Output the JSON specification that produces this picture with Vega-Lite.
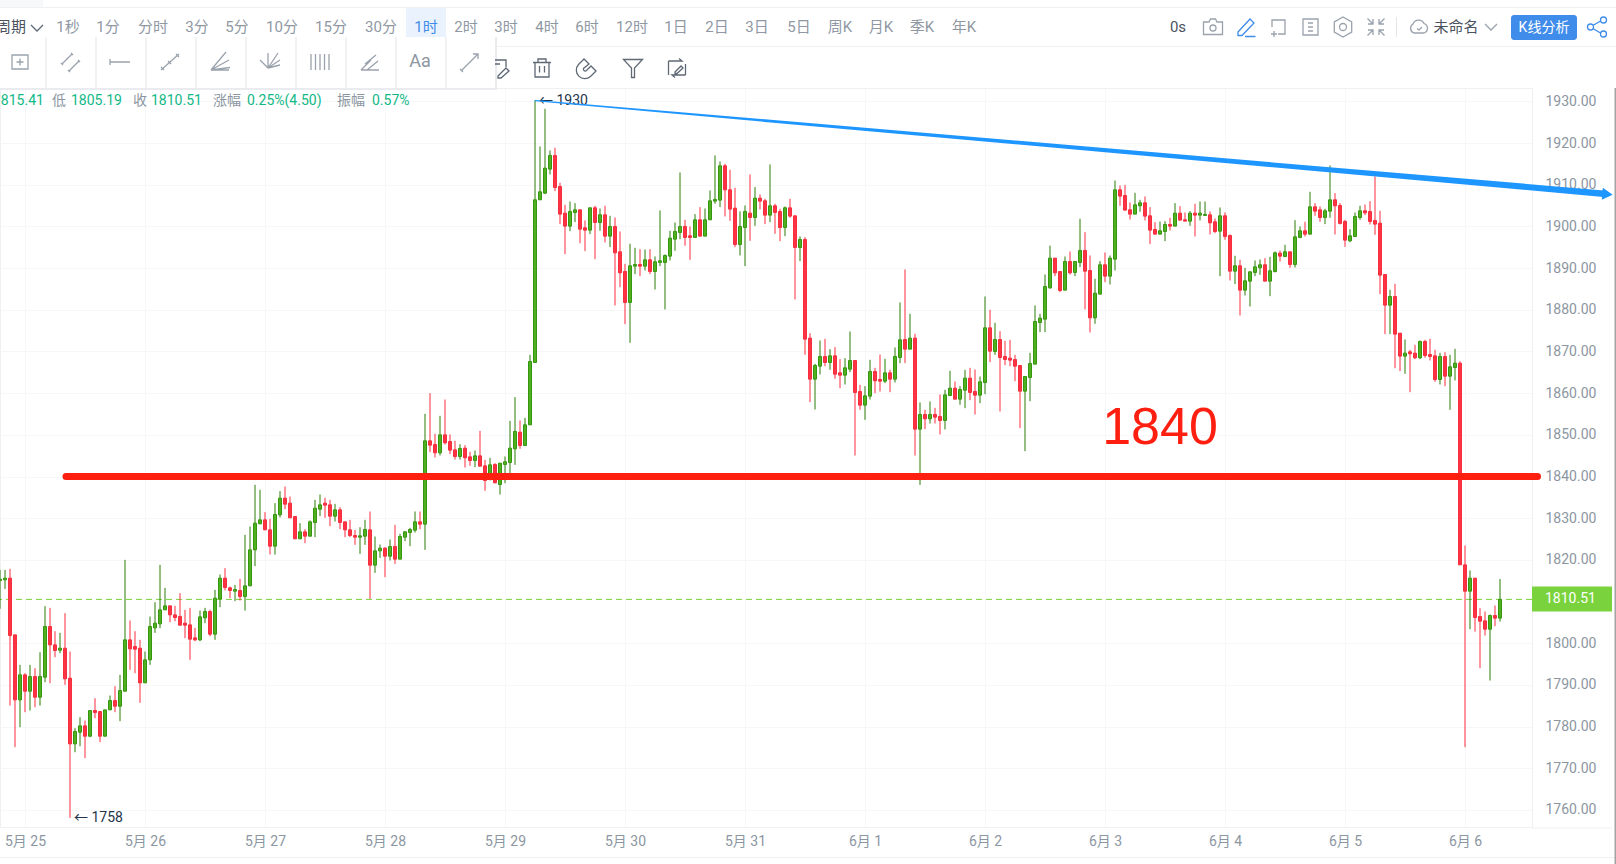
{
"$schema":"https://vega.github.io/schema/vega-lite/v6.json",
"description":"ETH 1h candlesticks, values read by eye from the picture; the application toolbar is reproduced as decoration, its positions held in piecewise scales.",
"width":1532,"height":739,"autosize":"none","padding":{"left":0,"top":88,"right":84,"bottom":37},"background":"#ffffff",
"config":{"font":"Roboto, 'Noto Sans CJK SC', sans-serif","view":{"stroke":"#eef0f2"}},
"datasets":{
"candles":[
{"t":"2023-05-24T19:00","o":1815.04,"h":1817.6,"l":1808.24,"c":1815.36},
{"t":"2023-05-24T20:00","o":1815.2,"h":1817.6,"l":1813.04,"c":1815.6},
{"t":"2023-05-24T21:00","o":1815.6,"h":1817.84,"l":1785.04,"c":1801.84},
{"t":"2023-05-24T22:00","o":1802,"h":1802,"l":1775.04,"c":1786.4},
{"t":"2023-05-24T23:00","o":1786.4,"h":1794.8,"l":1779.84,"c":1792.4},
{"t":"2023-05-25T00:00","o":1792.4,"h":1792.8,"l":1783.44,"c":1788.48},
{"t":"2023-05-25T01:00","o":1788.48,"h":1794.8,"l":1783.84,"c":1792},
{"t":"2023-05-25T02:00","o":1792,"h":1794,"l":1784.64,"c":1787.04},
{"t":"2023-05-25T03:00","o":1787.04,"h":1797.84,"l":1785.04,"c":1792},
{"t":"2023-05-25T04:00","o":1791.84,"h":1808.88,"l":1790.64,"c":1804},
{"t":"2023-05-25T05:00","o":1804,"h":1808.48,"l":1790.4,"c":1799.6},
{"t":"2023-05-25T06:00","o":1799.6,"h":1802.88,"l":1796.64,"c":1798.24},
{"t":"2023-05-25T07:00","o":1798.32,"h":1802.48,"l":1797.6,"c":1798.8},
{"t":"2023-05-25T08:00","o":1798.8,"h":1807.2,"l":1790,"c":1791.44},
{"t":"2023-05-25T09:00","o":1791.6,"h":1798,"l":1758.08,"c":1775.84},
{"t":"2023-05-25T10:00","o":1775.84,"h":1779.6,"l":1773.84,"c":1778.8},
{"t":"2023-05-25T11:00","o":1778.64,"h":1782.24,"l":1775.28,"c":1780.16},
{"t":"2023-05-25T12:00","o":1780.16,"h":1781.44,"l":1772.4,"c":1777.68},
{"t":"2023-05-25T13:00","o":1777.68,"h":1783.84,"l":1777.44,"c":1783.84},
{"t":"2023-05-25T14:00","o":1783.84,"h":1786.8,"l":1782,"c":1783.36},
{"t":"2023-05-25T15:00","o":1783.6,"h":1783.6,"l":1776.24,"c":1777.68},
{"t":"2023-05-25T16:00","o":1777.68,"h":1784,"l":1777.68,"c":1784},
{"t":"2023-05-25T17:00","o":1784,"h":1787.44,"l":1784,"c":1786.24},
{"t":"2023-05-25T18:00","o":1786.24,"h":1789.68,"l":1783.44,"c":1784.88},
{"t":"2023-05-25T19:00","o":1784.88,"h":1792.4,"l":1781.28,"c":1788.64},
{"t":"2023-05-25T20:00","o":1788.48,"h":1820,"l":1788.48,"c":1800.8},
{"t":"2023-05-25T21:00","o":1800.8,"h":1805.44,"l":1793.6,"c":1798.64},
{"t":"2023-05-25T22:00","o":1799.2,"h":1802.88,"l":1792.8,"c":1798.56},
{"t":"2023-05-25T23:00","o":1798.8,"h":1800.8,"l":1785.68,"c":1790.48},
{"t":"2023-05-26T00:00","o":1790.48,"h":1798,"l":1790.48,"c":1796},
{"t":"2023-05-26T01:00","o":1796,"h":1806.4,"l":1794.8,"c":1804},
{"t":"2023-05-26T02:00","o":1803.68,"h":1809.84,"l":1802.48,"c":1804.8},
{"t":"2023-05-26T03:00","o":1804.64,"h":1818.8,"l":1803.6,"c":1808},
{"t":"2023-05-26T04:00","o":1808,"h":1813.28,"l":1808,"c":1808.96},
{"t":"2023-05-26T05:00","o":1808.96,"h":1808.96,"l":1805.04,"c":1806.8},
{"t":"2023-05-26T06:00","o":1806.8,"h":1808.96,"l":1805.28,"c":1806.16},
{"t":"2023-05-26T07:00","o":1806.4,"h":1812,"l":1804.32,"c":1804.32},
{"t":"2023-05-26T08:00","o":1804.8,"h":1808,"l":1801.2,"c":1804.32},
{"t":"2023-05-26T09:00","o":1804.4,"h":1808.48,"l":1796,"c":1800.96},
{"t":"2023-05-26T10:00","o":1801.28,"h":1803.68,"l":1800.48,"c":1800.8},
{"t":"2023-05-26T11:00","o":1800.8,"h":1807.84,"l":1800.48,"c":1806.32},
{"t":"2023-05-26T12:00","o":1806.08,"h":1808.48,"l":1804.8,"c":1807.6},
{"t":"2023-05-26T13:00","o":1807.6,"h":1808,"l":1801.68,"c":1802.16},
{"t":"2023-05-26T14:00","o":1802.16,"h":1812.8,"l":1800.8,"c":1810.8},
{"t":"2023-05-26T15:00","o":1810.64,"h":1816.48,"l":1808.64,"c":1815.6},
{"t":"2023-05-26T16:00","o":1815.6,"h":1818,"l":1812.64,"c":1813.36},
{"t":"2023-05-26T17:00","o":1813.28,"h":1813.6,"l":1810.8,"c":1812.64},
{"t":"2023-05-26T18:00","o":1812.48,"h":1814,"l":1810.08,"c":1812.88},
{"t":"2023-05-26T19:00","o":1812.64,"h":1815.44,"l":1810.24,"c":1811.2},
{"t":"2023-05-26T20:00","o":1811.2,"h":1826,"l":1807.84,"c":1813.76},
{"t":"2023-05-26T21:00","o":1813.76,"h":1828,"l":1813.76,"c":1822.4},
{"t":"2023-05-26T22:00","o":1822.4,"h":1838,"l":1818.48,"c":1828.8},
{"t":"2023-05-26T23:00","o":1828.64,"h":1836.8,"l":1828.64,"c":1829.6},
{"t":"2023-05-27T00:00","o":1829.6,"h":1831.44,"l":1827.2,"c":1827.2},
{"t":"2023-05-27T01:00","o":1827.2,"h":1829.84,"l":1821.28,"c":1823.28},
{"t":"2023-05-27T02:00","o":1823.28,"h":1833.6,"l":1821.28,"c":1830.88},
{"t":"2023-05-27T03:00","o":1830.8,"h":1836.48,"l":1830.16,"c":1834.8},
{"t":"2023-05-27T04:00","o":1834.8,"h":1837.6,"l":1832.16,"c":1833.36},
{"t":"2023-05-27T05:00","o":1833.6,"h":1835.2,"l":1830.08,"c":1830.08},
{"t":"2023-05-27T06:00","o":1830.4,"h":1830.4,"l":1825.04,"c":1825.04},
{"t":"2023-05-27T07:00","o":1825.04,"h":1828.8,"l":1825.04,"c":1826.72},
{"t":"2023-05-27T08:00","o":1826.72,"h":1827.36,"l":1824,"c":1825.68},
{"t":"2023-05-27T09:00","o":1825.68,"h":1829.44,"l":1825.68,"c":1829.12},
{"t":"2023-05-27T10:00","o":1828.96,"h":1834.4,"l":1825.44,"c":1832.4},
{"t":"2023-05-27T11:00","o":1832.16,"h":1835.68,"l":1830.48,"c":1833.2},
{"t":"2023-05-27T12:00","o":1833.6,"h":1834.88,"l":1830.08,"c":1833.12},
{"t":"2023-05-27T13:00","o":1833.2,"h":1834.4,"l":1828.08,"c":1830.48},
{"t":"2023-05-27T14:00","o":1830.48,"h":1833.44,"l":1829.2,"c":1832},
{"t":"2023-05-27T15:00","o":1832,"h":1832.64,"l":1827.36,"c":1828.96},
{"t":"2023-05-27T16:00","o":1829.12,"h":1829.12,"l":1825.44,"c":1827.2},
{"t":"2023-05-27T17:00","o":1827.2,"h":1829.6,"l":1825.44,"c":1825.84},
{"t":"2023-05-27T18:00","o":1825.84,"h":1827.2,"l":1823.6,"c":1825.44},
{"t":"2023-05-27T19:00","o":1825.44,"h":1827.84,"l":1821.44,"c":1825.76},
{"t":"2023-05-27T20:00","o":1825.68,"h":1829.6,"l":1823.6,"c":1827.28},
{"t":"2023-05-27T21:00","o":1827.2,"h":1831.6,"l":1810.64,"c":1818.72},
{"t":"2023-05-27T22:00","o":1818.72,"h":1825.6,"l":1816.88,"c":1822.16},
{"t":"2023-05-27T23:00","o":1822.16,"h":1823.68,"l":1820.48,"c":1822.8},
{"t":"2023-05-28T00:00","o":1822.8,"h":1823.04,"l":1815.84,"c":1820.88},
{"t":"2023-05-28T01:00","o":1820.88,"h":1824.88,"l":1819.84,"c":1823.2},
{"t":"2023-05-28T02:00","o":1823.2,"h":1828.4,"l":1819.04,"c":1820.16},
{"t":"2023-05-28T03:00","o":1820.16,"h":1826.24,"l":1820.16,"c":1825.6},
{"t":"2023-05-28T04:00","o":1825.44,"h":1826.88,"l":1824.48,"c":1826.72},
{"t":"2023-05-28T05:00","o":1826.56,"h":1827.68,"l":1823.28,"c":1827.28},
{"t":"2023-05-28T06:00","o":1827.12,"h":1831.6,"l":1826.56,"c":1829.12},
{"t":"2023-05-28T07:00","o":1829.12,"h":1831.6,"l":1827.36,"c":1828.56},
{"t":"2023-05-28T08:00","o":1828.56,"h":1855.04,"l":1822.4,"c":1848.56},
{"t":"2023-05-28T09:00","o":1848.56,"h":1860,"l":1845.84,"c":1847.52},
{"t":"2023-05-28T10:00","o":1847.68,"h":1850.24,"l":1844.56,"c":1845.68},
{"t":"2023-05-28T11:00","o":1845.68,"h":1854.56,"l":1845.04,"c":1850},
{"t":"2023-05-28T12:00","o":1850,"h":1858.48,"l":1847.68,"c":1848.08},
{"t":"2023-05-28T13:00","o":1848.4,"h":1850.08,"l":1845.36,"c":1846.32},
{"t":"2023-05-28T14:00","o":1846.4,"h":1848.56,"l":1844.08,"c":1844.8},
{"t":"2023-05-28T15:00","o":1844.8,"h":1847.76,"l":1844.08,"c":1846.72},
{"t":"2023-05-28T16:00","o":1846.8,"h":1847.52,"l":1842.16,"c":1844.48},
{"t":"2023-05-28T17:00","o":1844.72,"h":1845.92,"l":1842.56,"c":1843.84},
{"t":"2023-05-28T18:00","o":1843.84,"h":1846.24,"l":1842.24,"c":1844.96},
{"t":"2023-05-28T19:00","o":1844.96,"h":1850.96,"l":1842.4,"c":1842.48},
{"t":"2023-05-28T20:00","o":1842.56,"h":1844,"l":1836.56,"c":1839.04},
{"t":"2023-05-28T21:00","o":1839.44,"h":1844.48,"l":1839.04,"c":1842.8},
{"t":"2023-05-28T22:00","o":1842.88,"h":1843.2,"l":1838.4,"c":1838.48},
{"t":"2023-05-28T23:00","o":1838.08,"h":1843.2,"l":1835.68,"c":1843.2},
{"t":"2023-05-29T00:00","o":1842.88,"h":1844.8,"l":1838.4,"c":1843.52},
{"t":"2023-05-29T01:00","o":1843.36,"h":1853.36,"l":1840.8,"c":1846.8},
{"t":"2023-05-29T02:00","o":1846.64,"h":1859.04,"l":1842.8,"c":1850.8},
{"t":"2023-05-29T03:00","o":1850.64,"h":1853.44,"l":1846.64,"c":1847.44},
{"t":"2023-05-29T04:00","o":1847.44,"h":1854.08,"l":1847.44,"c":1852.4},
{"t":"2023-05-29T05:00","o":1852.4,"h":1869.2,"l":1852.4,"c":1867.6},
{"t":"2023-05-29T06:00","o":1867.36,"h":1930.24,"l":1867.36,"c":1906.4},
{"t":"2023-05-29T07:00","o":1906.4,"h":1919.2,"l":1906.4,"c":1908.32},
{"t":"2023-05-29T08:00","o":1908,"h":1928.24,"l":1907.76,"c":1914},
{"t":"2023-05-29T09:00","o":1913.76,"h":1918.24,"l":1912.48,"c":1917.04},
{"t":"2023-05-29T10:00","o":1917.04,"h":1918.88,"l":1908.48,"c":1909.36},
{"t":"2023-05-29T11:00","o":1909.6,"h":1910.48,"l":1900.56,"c":1902.96},
{"t":"2023-05-29T12:00","o":1903.2,"h":1905.2,"l":1893.36,"c":1900.08},
{"t":"2023-05-29T13:00","o":1900.08,"h":1906,"l":1898.88,"c":1903.6},
{"t":"2023-05-29T14:00","o":1903.36,"h":1905.6,"l":1901.04,"c":1904},
{"t":"2023-05-29T15:00","o":1904,"h":1904,"l":1896,"c":1899.36},
{"t":"2023-05-29T16:00","o":1899.68,"h":1901.44,"l":1894.08,"c":1899.12},
{"t":"2023-05-29T17:00","o":1899.12,"h":1904.48,"l":1898.16,"c":1904.48},
{"t":"2023-05-29T18:00","o":1904.48,"h":1904.96,"l":1892.16,"c":1900.96},
{"t":"2023-05-29T19:00","o":1900.96,"h":1904.32,"l":1898.96,"c":1902.8},
{"t":"2023-05-29T20:00","o":1902.8,"h":1904.96,"l":1896.16,"c":1897.68},
{"t":"2023-05-29T21:00","o":1897.68,"h":1902.56,"l":1895.04,"c":1900},
{"t":"2023-05-29T22:00","o":1900,"h":1902.16,"l":1881.04,"c":1893.68},
{"t":"2023-05-29T23:00","o":1893.92,"h":1898.8,"l":1885.44,"c":1888.88},
{"t":"2023-05-30T00:00","o":1889.2,"h":1891.04,"l":1876.56,"c":1881.76},
{"t":"2023-05-30T01:00","o":1881.76,"h":1895.84,"l":1872.08,"c":1890.56},
{"t":"2023-05-30T02:00","o":1890.48,"h":1894.88,"l":1888.56,"c":1890.88},
{"t":"2023-05-30T03:00","o":1890.88,"h":1894.56,"l":1888.08,"c":1890.48},
{"t":"2023-05-30T04:00","o":1890.48,"h":1894.48,"l":1889.44,"c":1892},
{"t":"2023-05-30T05:00","o":1892,"h":1894.56,"l":1888.56,"c":1889.2},
{"t":"2023-05-30T06:00","o":1889.2,"h":1892.8,"l":1884.88,"c":1891.52},
{"t":"2023-05-30T07:00","o":1891.36,"h":1903.84,"l":1890.48,"c":1891.76},
{"t":"2023-05-30T08:00","o":1891.36,"h":1893.28,"l":1880.08,"c":1893.04},
{"t":"2023-05-30T09:00","o":1892.88,"h":1898.96,"l":1891.84,"c":1897.2},
{"t":"2023-05-30T10:00","o":1896.96,"h":1900.96,"l":1894.16,"c":1898.8},
{"t":"2023-05-30T11:00","o":1898.56,"h":1912.96,"l":1896.96,"c":1900},
{"t":"2023-05-30T12:00","o":1900,"h":1901.6,"l":1895.36,"c":1897.36},
{"t":"2023-05-30T13:00","o":1897.76,"h":1900,"l":1892,"c":1897.36},
{"t":"2023-05-30T14:00","o":1897.36,"h":1902.96,"l":1897.36,"c":1901.6},
{"t":"2023-05-30T15:00","o":1901.6,"h":1904.64,"l":1897.68,"c":1897.68},
{"t":"2023-05-30T16:00","o":1897.68,"h":1904.32,"l":1897.68,"c":1901.6},
{"t":"2023-05-30T17:00","o":1901.6,"h":1908.64,"l":1901.6,"c":1906.16},
{"t":"2023-05-30T18:00","o":1906.08,"h":1917.04,"l":1905.44,"c":1906.48},
{"t":"2023-05-30T19:00","o":1906.32,"h":1915.6,"l":1904.64,"c":1914.56},
{"t":"2023-05-30T20:00","o":1914.56,"h":1915.04,"l":1902.4,"c":1908.8},
{"t":"2023-05-30T21:00","o":1908.8,"h":1913.6,"l":1901.36,"c":1904.16},
{"t":"2023-05-30T22:00","o":1904.4,"h":1909.28,"l":1895.04,"c":1895.68},
{"t":"2023-05-30T23:00","o":1895.68,"h":1903.6,"l":1893.04,"c":1900},
{"t":"2023-05-31T00:00","o":1899.76,"h":1905.04,"l":1890.48,"c":1903.6},
{"t":"2023-05-31T01:00","o":1903.2,"h":1912.48,"l":1896.56,"c":1902.16},
{"t":"2023-05-31T02:00","o":1902.16,"h":1909.44,"l":1900.16,"c":1906.8},
{"t":"2023-05-31T03:00","o":1906.8,"h":1907.68,"l":1904.08,"c":1906.08},
{"t":"2023-05-31T04:00","o":1906.16,"h":1906.64,"l":1900.56,"c":1902.72},
{"t":"2023-05-31T05:00","o":1902.72,"h":1914.88,"l":1901.04,"c":1904.96},
{"t":"2023-05-31T06:00","o":1904.96,"h":1905.44,"l":1898.24,"c":1903.36},
{"t":"2023-05-31T07:00","o":1903.6,"h":1904.24,"l":1896.48,"c":1899.76},
{"t":"2023-05-31T08:00","o":1899.76,"h":1904.8,"l":1897.68,"c":1904.48},
{"t":"2023-05-31T09:00","o":1904.48,"h":1906.64,"l":1902.08,"c":1902.48},
{"t":"2023-05-31T10:00","o":1902.56,"h":1902.56,"l":1882.48,"c":1894.96},
{"t":"2023-05-31T11:00","o":1894.96,"h":1897.6,"l":1891.68,"c":1896.88},
{"t":"2023-05-31T12:00","o":1896.88,"h":1897.44,"l":1869.2,"c":1872.96},
{"t":"2023-05-31T13:00","o":1873.2,"h":1874.4,"l":1857.84,"c":1863.36},
{"t":"2023-05-31T14:00","o":1863.36,"h":1867.04,"l":1856.08,"c":1866.64},
{"t":"2023-05-31T15:00","o":1866.48,"h":1872.64,"l":1864.48,"c":1868.8},
{"t":"2023-05-31T16:00","o":1868.8,"h":1873.04,"l":1866.48,"c":1867.36},
{"t":"2023-05-31T17:00","o":1867.36,"h":1870.56,"l":1865.6,"c":1868.96},
{"t":"2023-05-31T18:00","o":1868.96,"h":1871.04,"l":1863.44,"c":1864.56},
{"t":"2023-05-31T19:00","o":1864.88,"h":1868.16,"l":1861.2,"c":1864.32},
{"t":"2023-05-31T20:00","o":1864.32,"h":1868.4,"l":1862.08,"c":1866.08},
{"t":"2023-05-31T21:00","o":1865.76,"h":1874.8,"l":1865.04,"c":1867.84},
{"t":"2023-05-31T22:00","o":1867.84,"h":1867.84,"l":1845.04,"c":1860.16},
{"t":"2023-05-31T23:00","o":1860.4,"h":1862,"l":1856,"c":1857.12},
{"t":"2023-06-01T00:00","o":1857.12,"h":1861.68,"l":1853.6,"c":1859.36},
{"t":"2023-06-01T01:00","o":1859.28,"h":1868,"l":1858.48,"c":1865.2},
{"t":"2023-06-01T02:00","o":1865.2,"h":1866.08,"l":1860,"c":1862.96},
{"t":"2023-06-01T03:00","o":1863.28,"h":1869.28,"l":1860.4,"c":1862.88},
{"t":"2023-06-01T04:00","o":1862.88,"h":1868.24,"l":1862.4,"c":1864.88},
{"t":"2023-06-01T05:00","o":1864.88,"h":1865.6,"l":1860.24,"c":1863.36},
{"t":"2023-06-01T06:00","o":1863.36,"h":1870.96,"l":1862.56,"c":1868.8},
{"t":"2023-06-01T07:00","o":1868.56,"h":1881.76,"l":1867.2,"c":1872.8},
{"t":"2023-06-01T08:00","o":1872.88,"h":1889.68,"l":1867.2,"c":1870.56},
{"t":"2023-06-01T09:00","o":1870.56,"h":1879.04,"l":1870.56,"c":1873.2},
{"t":"2023-06-01T10:00","o":1873.2,"h":1874.24,"l":1845.04,"c":1851.36},
{"t":"2023-06-01T11:00","o":1851.36,"h":1857.76,"l":1837.99,"c":1854.88},
{"t":"2023-06-01T12:00","o":1854.88,"h":1856,"l":1851.36,"c":1853.84},
{"t":"2023-06-01T13:00","o":1853.84,"h":1858,"l":1852.72,"c":1854.88},
{"t":"2023-06-01T14:00","o":1854.88,"h":1856.48,"l":1852.72,"c":1854.24},
{"t":"2023-06-01T15:00","o":1854.4,"h":1859.68,"l":1850.08,"c":1853.44},
{"t":"2023-06-01T16:00","o":1853.44,"h":1860.8,"l":1851.28,"c":1859.6},
{"t":"2023-06-01T17:00","o":1859.44,"h":1865.36,"l":1859.28,"c":1861.2},
{"t":"2023-06-01T18:00","o":1861.2,"h":1862.8,"l":1858.56,"c":1858.56},
{"t":"2023-06-01T19:00","o":1858.56,"h":1861.68,"l":1857.2,"c":1860.88},
{"t":"2023-06-01T20:00","o":1860.72,"h":1865.6,"l":1856.4,"c":1863.6},
{"t":"2023-06-01T21:00","o":1863.6,"h":1866.08,"l":1858.32,"c":1860.16},
{"t":"2023-06-01T22:00","o":1860.4,"h":1865.68,"l":1854.88,"c":1859.52},
{"t":"2023-06-01T23:00","o":1859.52,"h":1864,"l":1857.6,"c":1862.72},
{"t":"2023-06-02T00:00","o":1862.56,"h":1883.2,"l":1859.76,"c":1875.68},
{"t":"2023-06-02T01:00","o":1875.68,"h":1880,"l":1867.44,"c":1870.08},
{"t":"2023-06-02T02:00","o":1870,"h":1876.88,"l":1869.2,"c":1872.88},
{"t":"2023-06-02T03:00","o":1872.88,"h":1874.88,"l":1855.6,"c":1868.56},
{"t":"2023-06-02T04:00","o":1868.8,"h":1872.56,"l":1866.72,"c":1868.08},
{"t":"2023-06-02T05:00","o":1868.4,"h":1872.8,"l":1866.48,"c":1867.92},
{"t":"2023-06-02T06:00","o":1868.08,"h":1869.2,"l":1862.88,"c":1866.48},
{"t":"2023-06-02T07:00","o":1866.64,"h":1866.64,"l":1851.6,"c":1860.48},
{"t":"2023-06-02T08:00","o":1860.48,"h":1864,"l":1846.08,"c":1864},
{"t":"2023-06-02T09:00","o":1863.76,"h":1869.68,"l":1858.08,"c":1867.12},
{"t":"2023-06-02T10:00","o":1866.96,"h":1881.04,"l":1866.96,"c":1877.2},
{"t":"2023-06-02T11:00","o":1876.96,"h":1879.04,"l":1874.64,"c":1878},
{"t":"2023-06-02T12:00","o":1877.76,"h":1888.48,"l":1874.64,"c":1885.6},
{"t":"2023-06-02T13:00","o":1885.28,"h":1895.4,"l":1885.04,"c":1892.4},
{"t":"2023-06-02T14:00","o":1892.4,"h":1892.4,"l":1888.08,"c":1888.88},
{"t":"2023-06-02T15:00","o":1889.2,"h":1889.2,"l":1884.24,"c":1884.64},
{"t":"2023-06-02T16:00","o":1884.72,"h":1892.8,"l":1884.72,"c":1891.6},
{"t":"2023-06-02T17:00","o":1891.6,"h":1894,"l":1888.48,"c":1888.88},
{"t":"2023-06-02T18:00","o":1888.96,"h":1891.6,"l":1888.08,"c":1891.6},
{"t":"2023-06-02T19:00","o":1891.36,"h":1901.84,"l":1890.24,"c":1894.24},
{"t":"2023-06-02T20:00","o":1894.24,"h":1898.64,"l":1880.08,"c":1889.28},
{"t":"2023-06-02T21:00","o":1889.44,"h":1893.04,"l":1874.56,"c":1878.08},
{"t":"2023-06-02T22:00","o":1878.08,"h":1887.44,"l":1876.64,"c":1884},
{"t":"2023-06-02T23:00","o":1883.76,"h":1891.68,"l":1883.76,"c":1890.8},
{"t":"2023-06-03T00:00","o":1890.8,"h":1893.76,"l":1886.64,"c":1888.08},
{"t":"2023-06-03T01:00","o":1888.08,"h":1893.04,"l":1886.08,"c":1892.4},
{"t":"2023-06-03T02:00","o":1892.16,"h":1911.04,"l":1889.44,"c":1908.8},
{"t":"2023-06-03T03:00","o":1908.8,"h":1909.84,"l":1904.96,"c":1907.28},
{"t":"2023-06-03T04:00","o":1907.44,"h":1910,"l":1903.92,"c":1903.92},
{"t":"2023-06-03T05:00","o":1904,"h":1905.76,"l":1901.68,"c":1902.96},
{"t":"2023-06-03T06:00","o":1902.96,"h":1908.08,"l":1902.96,"c":1905.2},
{"t":"2023-06-03T07:00","o":1904.96,"h":1906.4,"l":1903.52,"c":1905.68},
{"t":"2023-06-03T08:00","o":1905.68,"h":1907.2,"l":1901.44,"c":1902.48},
{"t":"2023-06-03T09:00","o":1902.56,"h":1904.64,"l":1895.76,"c":1899.12},
{"t":"2023-06-03T10:00","o":1899.28,"h":1901.04,"l":1898.16,"c":1898.16},
{"t":"2023-06-03T11:00","o":1898.16,"h":1901.2,"l":1898.16,"c":1898.96},
{"t":"2023-06-03T12:00","o":1898.8,"h":1901.28,"l":1896.48,"c":1900.48},
{"t":"2023-06-03T13:00","o":1900.48,"h":1902.08,"l":1899.04,"c":1900.08},
{"t":"2023-06-03T14:00","o":1900.08,"h":1905.6,"l":1900.08,"c":1903.2},
{"t":"2023-06-03T15:00","o":1903.2,"h":1904.88,"l":1901.52,"c":1901.52},
{"t":"2023-06-03T16:00","o":1901.6,"h":1903.36,"l":1901.28,"c":1901.28},
{"t":"2023-06-03T17:00","o":1901.28,"h":1903.68,"l":1900.16,"c":1903.2},
{"t":"2023-06-03T18:00","o":1903.2,"h":1905.44,"l":1897.6,"c":1902.72},
{"t":"2023-06-03T19:00","o":1902.72,"h":1906,"l":1901.44,"c":1903.2},
{"t":"2023-06-03T20:00","o":1902.64,"h":1906,"l":1902.64,"c":1902.88},
{"t":"2023-06-03T21:00","o":1902.8,"h":1903.6,"l":1898.08,"c":1900.88},
{"t":"2023-06-03T22:00","o":1901.12,"h":1901.92,"l":1898.4,"c":1898.8},
{"t":"2023-06-03T23:00","o":1898.88,"h":1904.56,"l":1888.08,"c":1902.56},
{"t":"2023-06-04T00:00","o":1902.56,"h":1903.36,"l":1896.8,"c":1897.6},
{"t":"2023-06-04T01:00","o":1897.84,"h":1898.08,"l":1887.04,"c":1889.28},
{"t":"2023-06-04T02:00","o":1889.28,"h":1892.96,"l":1886.16,"c":1890.56},
{"t":"2023-06-04T03:00","o":1890.56,"h":1892,"l":1878.64,"c":1884.72},
{"t":"2023-06-04T04:00","o":1884.72,"h":1890.08,"l":1883.44,"c":1886.96},
{"t":"2023-06-04T05:00","o":1886.88,"h":1889.2,"l":1880.8,"c":1889.12},
{"t":"2023-06-04T06:00","o":1888.96,"h":1891.84,"l":1888.08,"c":1890.32},
{"t":"2023-06-04T07:00","o":1890.08,"h":1892.08,"l":1888.4,"c":1890.8},
{"t":"2023-06-04T08:00","o":1890.8,"h":1892.4,"l":1886.88,"c":1886.88},
{"t":"2023-06-04T09:00","o":1886.88,"h":1892.72,"l":1883.28,"c":1889.36},
{"t":"2023-06-04T10:00","o":1889.2,"h":1894,"l":1888.96,"c":1893.68},
{"t":"2023-06-04T11:00","o":1893.6,"h":1894.24,"l":1891.6,"c":1892.88},
{"t":"2023-06-04T12:00","o":1892.8,"h":1895.6,"l":1892.64,"c":1893.92},
{"t":"2023-06-04T13:00","o":1893.92,"h":1893.92,"l":1890.08,"c":1890.88},
{"t":"2023-06-04T14:00","o":1890.88,"h":1901.52,"l":1890.16,"c":1897.52},
{"t":"2023-06-04T15:00","o":1897.36,"h":1900,"l":1897.2,"c":1898.96},
{"t":"2023-06-04T16:00","o":1898.96,"h":1901.12,"l":1897.6,"c":1898.16},
{"t":"2023-06-04T17:00","o":1898.16,"h":1908.32,"l":1898.16,"c":1904.72},
{"t":"2023-06-04T18:00","o":1904.72,"h":1905.6,"l":1902.56,"c":1903.68},
{"t":"2023-06-04T19:00","o":1904,"h":1904.8,"l":1901.12,"c":1902.16},
{"t":"2023-06-04T20:00","o":1902.16,"h":1904.24,"l":1900.56,"c":1903.76},
{"t":"2023-06-04T21:00","o":1903.68,"h":1914.64,"l":1902.08,"c":1906.4},
{"t":"2023-06-04T22:00","o":1906.4,"h":1908,"l":1898.08,"c":1904.96},
{"t":"2023-06-04T23:00","o":1905.04,"h":1905.6,"l":1900.48,"c":1900.72},
{"t":"2023-06-05T00:00","o":1901.2,"h":1901.6,"l":1895.12,"c":1896.72},
{"t":"2023-06-05T01:00","o":1896.56,"h":1899.36,"l":1896.24,"c":1897.76},
{"t":"2023-06-05T02:00","o":1897.6,"h":1903.36,"l":1897.6,"c":1902.4},
{"t":"2023-06-05T03:00","o":1902.16,"h":1904.96,"l":1901.6,"c":1903.76},
{"t":"2023-06-05T04:00","o":1903.76,"h":1905.28,"l":1902.72,"c":1903.28},
{"t":"2023-06-05T05:00","o":1903.6,"h":1906.08,"l":1900.48,"c":1901.2},
{"t":"2023-06-05T06:00","o":1901.44,"h":1912,"l":1898,"c":1900.56},
{"t":"2023-06-05T07:00","o":1900.8,"h":1903.76,"l":1883.76,"c":1888.32},
{"t":"2023-06-05T08:00","o":1888.48,"h":1888.48,"l":1874.16,"c":1881.12},
{"t":"2023-06-05T09:00","o":1881.12,"h":1884.8,"l":1874.16,"c":1883.2},
{"t":"2023-06-05T10:00","o":1883.2,"h":1886.24,"l":1866,"c":1874.16},
{"t":"2023-06-05T11:00","o":1874.4,"h":1874.4,"l":1865.28,"c":1868.88},
{"t":"2023-06-05T12:00","o":1868.88,"h":1872.88,"l":1864.64,"c":1869.6},
{"t":"2023-06-05T13:00","o":1869.92,"h":1870.4,"l":1860.24,"c":1869.44},
{"t":"2023-06-05T14:00","o":1869.6,"h":1871.6,"l":1868.16,"c":1868.48},
{"t":"2023-06-05T15:00","o":1868.48,"h":1872.64,"l":1868.16,"c":1872.4},
{"t":"2023-06-05T16:00","o":1872.4,"h":1872.8,"l":1868.48,"c":1869.04},
{"t":"2023-06-05T17:00","o":1869.28,"h":1873.04,"l":1867.84,"c":1868.8},
{"t":"2023-06-05T18:00","o":1868.96,"h":1870.4,"l":1862.72,"c":1863.28},
{"t":"2023-06-05T19:00","o":1863.28,"h":1869.68,"l":1862.08,"c":1868.8},
{"t":"2023-06-05T20:00","o":1868.8,"h":1869.84,"l":1861.68,"c":1864.08},
{"t":"2023-06-05T21:00","o":1864.08,"h":1869.2,"l":1856,"c":1866.32},
{"t":"2023-06-05T22:00","o":1866.16,"h":1870.64,"l":1863.04,"c":1867.2},
{"t":"2023-06-05T23:00","o":1867.2,"h":1867.68,"l":1818.8,"c":1818.8},
{"t":"2023-06-06T00:00","o":1818.8,"h":1823.44,"l":1775.04,"c":1812.48},
{"t":"2023-06-06T01:00","o":1812.48,"h":1817.44,"l":1803.36,"c":1815.6},
{"t":"2023-06-06T02:00","o":1815.6,"h":1815.6,"l":1802.8,"c":1806.16},
{"t":"2023-06-06T03:00","o":1806.4,"h":1808.4,"l":1794,"c":1805.28},
{"t":"2023-06-06T04:00","o":1805.36,"h":1807.6,"l":1801.84,"c":1803.36},
{"t":"2023-06-06T05:00","o":1803.36,"h":1806.88,"l":1791.04,"c":1806.64},
{"t":"2023-06-06T06:00","o":1806.64,"h":1809.04,"l":1804.08,"c":1806.01},
{"t":"2023-06-06T07:00","o":1806.01,"h":1815.41,"l":1805.19,"c":1810.51}
],
"support":[{"t":"2023-05-25T08:12","p":1840},{"t":"2023-06-06T14:30","p":1840}],
"supportLabel":[{"t":"2023-06-03T11:00","p":1851.7,"label":"1840"}],
"trend":[{"t":"2023-05-29T06:06","p":1930.2},{"t":"2023-06-07T03:42","p":1907.87}],
"trendHead":[{"t":"2023-06-07T04:30","p":1907.75}],
"extremes":[{"t":"2023-05-25T09:00","p":1758,"label":"← 1758"},{"t":"2023-05-29T06:00","p":1930.2,"label":"← 1930"}],
"last":[{"p":1810.51,"label":"1810.51","t":"2023-06-06T13:24","t2":"2023-06-07T05:24","p1":1813.6,"p2":1807.6}],
"chromeBoxes":[
{"seq":0,"seq2":1,"kind":"faint"},{"seq":2,"seq2":3,"kind":"line"},{"seq":4,"seq2":5,"kind":"line"},{"seq":6,"seq2":7,"kind":"active"},
{"seq":8,"seq2":9,"kind":"line"},{"seq":10,"seq2":11,"kind":"edge"},{"seq":12,"seq2":13,"kind":"line"},{"seq":14,"seq2":15,"kind":"div"},
{"seq":38,"seq2":39,"kind":"shadow"},{"seq":18,"seq2":19,"kind":"panel"},
{"seq":20,"seq2":21,"kind":"div"},{"seq":22,"seq2":23,"kind":"div"},{"seq":24,"seq2":25,"kind":"div"},{"seq":26,"seq2":27,"kind":"div"},{"seq":28,"seq2":29,"kind":"div"},{"seq":30,"seq2":31,"kind":"div"},{"seq":32,"seq2":33,"kind":"div"},{"seq":34,"seq2":35,"kind":"div"},{"seq":36,"seq2":37,"kind":"div"}
],
"chromeButton":[{"seq":16,"seq2":17}],
"chromeCentered":[
{"seq":40,"label":"周期","kind":"dark"},{"seq":41,"label":"1秒","kind":"tf"},{"seq":42,"label":"1分","kind":"tf"},{"seq":43,"label":"分时","kind":"tf"},{"seq":44,"label":"3分","kind":"tf"},{"seq":45,"label":"5分","kind":"tf"},{"seq":46,"label":"10分","kind":"tf"},{"seq":47,"label":"15分","kind":"tf"},{"seq":48,"label":"30分","kind":"tf"},{"seq":49,"label":"1时","kind":"tfActive"},{"seq":50,"label":"2时","kind":"tf"},{"seq":51,"label":"3时","kind":"tf"},{"seq":52,"label":"4时","kind":"tf"},{"seq":53,"label":"6时","kind":"tf"},{"seq":54,"label":"12时","kind":"tf"},{"seq":55,"label":"1日","kind":"tf"},{"seq":56,"label":"2日","kind":"tf"},{"seq":57,"label":"3日","kind":"tf"},{"seq":58,"label":"5日","kind":"tf"},{"seq":59,"label":"周K","kind":"tf"},{"seq":60,"label":"月K","kind":"tf"},{"seq":61,"label":"季K","kind":"tf"},{"seq":62,"label":"年K","kind":"tf"},{"seq":63,"label":"0s","kind":"dark"},{"seq":64,"label":"未命名","kind":"dark"}
],
"chromeButtonText":[{"seq":65,"label":"K线分析"}],
"chromeAa":[{"seq":66,"label":"Aa"}],
"chromeInfo":[
{"seq":67,"label":"1815.41","kind":"infoValue"},{"seq":68,"label":"低","kind":"infoLabel"},{"seq":69,"label":"1805.19","kind":"infoValue"},{"seq":70,"label":"收","kind":"infoLabel"},{"seq":71,"label":"1810.51","kind":"infoValue"},{"seq":72,"label":"涨幅","kind":"infoLabel"},{"seq":73,"label":"0.25%(4.50)","kind":"infoValue"},{"seq":74,"label":"振幅","kind":"infoLabel"},{"seq":75,"label":"0.57%","kind":"infoValue"}
],
"chromeIcons":[
{"seq":76,"icon":"box","tone":"gray"},{"seq":77,"icon":"parallel","tone":"gray"},{"seq":78,"icon":"hline","tone":"gray"},{"seq":79,"icon":"segment","tone":"gray"},{"seq":80,"icon":"fan","tone":"gray"},{"seq":81,"icon":"gann","tone":"gray"},{"seq":82,"icon":"bars","tone":"gray"},{"seq":83,"icon":"fib","tone":"gray"},{"seq":84,"icon":"arrow","tone":"gray"},
{"seq":85,"icon":"edit","tone":"slate"},{"seq":86,"icon":"trash","tone":"slate"},{"seq":87,"icon":"magnet","tone":"slate"},{"seq":88,"icon":"filter","tone":"slate"},{"seq":89,"icon":"loop","tone":"slate"},
{"seq":90,"icon":"camera","tone":"gray"},{"seq":91,"icon":"pen","tone":"blue"},{"seq":92,"icon":"addwin","tone":"gray"},{"seq":93,"icon":"danmu","tone":"gray"},{"seq":94,"icon":"hex","tone":"gray"},{"seq":95,"icon":"compress","tone":"gray"},{"seq":96,"icon":"cloud","tone":"gray"},{"seq":97,"icon":"chevron","tone":"gray"},{"seq":98,"icon":"share","tone":"blue"},{"seq":99,"icon":"chevron","tone":"slate"}
]
},
"resolve":{"scale":{"x":"independent","y":"independent"}},
"layer":[
{"layer":[
{"data":{"name":"last"},"mark":{"type":"rule","color":"#7ad33c","strokeDash":[6,4],"strokeWidth":1},
 "encoding":{"y":{"field":"p","type":"quantitative","title":null,"scale":{"domain":[1755.89,1933.23],"nice":false,"zero":false,"padding":0},"axis":{"orient":"right","values":[1760,1770,1780,1790,1800,1820,1830,1840,1850,1860,1870,1880,1890,1900,1910,1920,1930],"format":".2f","grid":true,"gridColor":"#f5f7f9","ticks":false,"domain":false,"labelColor":"#8c96a1","labelFontSize":14,"labelPadding":13,"title":null}}}},
{"data":{"name":"candles"},"mark":{"type":"rule","strokeWidth":1},
 "encoding":{"x":{"field":"t","type":"temporal","title":null,"scale":{"domain":[{"year":2023,"month":5,"date":24,"hours":19,"minutes":0},{"year":2023,"month":6,"date":6,"hours":13,"minutes":24}],"nice":false,"padding":0},"axis":{"orient":"bottom","tickCount":"day","format":"%-m月 %-d","grid":true,"gridColor":"#f5f7f9","ticks":false,"domain":false,"labelColor":"#8c96a1","labelFontSize":14,"labelPadding":7,"labelFlush":false,"labelOverlap":false,"labelBound":false,"title":null}},
 "y":{"field":"l","type":"quantitative","title":null},"y2":{"field":"h"},
 "stroke":{"condition":{"test":"datum.c>=datum.o","value":"#2a7d05"},"value":"#ff2d3e"}}},
{"data":{"name":"candles"},"mark":{"type":"bar","size":3,"strokeWidth":1},
 "encoding":{"x":{"field":"t","type":"temporal"},"y":{"field":"o","type":"quantitative"},"y2":{"field":"c"},
 "fill":{"condition":{"test":"datum.c>=datum.o","value":"#4fb020"},"value":"#ff3344"},
 "stroke":{"condition":{"test":"datum.c>=datum.o","value":"#37960f"},"value":"#f4303f"}}},
{"data":{"name":"support"},"mark":{"type":"line","color":"#ff1f10","strokeWidth":7,"strokeCap":"round","clip":false},
 "encoding":{"x":{"field":"t","type":"temporal"},"y":{"field":"p","type":"quantitative"}}},
{"data":{"name":"supportLabel"},"mark":{"type":"text","color":"#ff1f10","font":"Liberation Sans","fontSize":52,"align":"center","baseline":"middle"},
 "encoding":{"x":{"field":"t","type":"temporal"},"y":{"field":"p","type":"quantitative"},"text":{"field":"label"}}},
{"data":{"name":"extremes"},"mark":{"type":"text","color":"#24344a","fontSize":14,"align":"left","baseline":"middle","dx":4},
 "encoding":{"x":{"field":"t","type":"temporal"},"y":{"field":"p","type":"quantitative"},"text":{"field":"label"}}},
{"data":{"name":"trend"},"mark":{"type":"trail","color":"#1e96ff","clip":false},
 "encoding":{"x":{"field":"t","type":"temporal"},"y":{"field":"p","type":"quantitative"},
 "size":{"field":"p","type":"quantitative","legend":null,"scale":{"domain":[1930.2,1907.87],"range":[1.5,6.5]}}}},
{"data":{"name":"trendHead"},"mark":{"type":"point","shape":"triangle-right","filled":true,"color":"#1e96ff","size":144,"angle":5,"opacity":1},
 "encoding":{"x":{"field":"t","type":"temporal"},"y":{"field":"p","type":"quantitative"}}},
{"data":{"name":"last"},"mark":{"type":"rect","color":"#7ad33c"},
 "encoding":{"x":{"field":"t","type":"temporal"},"x2":{"field":"t2"},"y":{"field":"p1","type":"quantitative"},"y2":{"field":"p2"}}},
{"data":{"name":"last"},"mark":{"type":"text","color":"#ffffff","fontSize":14,"align":"left","baseline":"middle","dx":13},
 "encoding":{"x":{"field":"t","type":"temporal"},"y":{"field":"p","type":"quantitative"},"text":{"field":"label"}}}
]},
{"encoding":{
 "x":{"field":"seq","type":"quantitative","axis":null,"scale":{"nice":false,"zero":false,"padding":0,
  "domain":[0,1,2,3,4,5,6,7,8,9,10,11,12,13,14,15,16,17,18,19,20,21,22,23,24,25,26,27,28,29,30,31,32,33,34,35,36,37,38,39,40,41,42,43,44,45,46,47,48,49,50,51,52,53,54,55,56,57,58,59,60,61,62,63,64,65,66,67,68,69,70,71,72,73,74,75,76,77,78,79,80,81,82,83,84,85,86,87,88,89,90,91,92,93,94,95,96,97,98,99],
  "range":[0,43,0,1616,0,1616,406,446,0,1616,1614.5,1616,1532,1612,1396,1397,1511,1577,0,495,45.5,46.5,95.5,96.5,145.5,146.5,195.5,196.5,245.5,246.5,295.5,296.5,345.5,346.5,395.5,396.5,445.5,446.5,0,497,11,68,108,153,197,237,282,331,381,426,466,506,547,587,632,676,717,757,799,840,881,922,964,1178,1456,1544,420,-7,52,71,133,151,213,247,337,372,20,71,120,170,220,270,320,370,470,499,542,587,633,677,1213,1246,1278,1311,1343,1376,1419,1491,1597,37]}},
 "y":{"field":"seq","type":"quantitative","axis":null,"scale":{"nice":false,"zero":false,"padding":0,
  "domain":[0,1,2,3,4,5,6,7,8,9,10,11,12,13,14,15,16,17,18,19,20,21,22,23,24,25,26,27,28,29,30,31,32,33,34,35,36,37,38,39,40,41,42,43,44,45,46,47,48,49,50,51,52,53,54,55,56,57,58,59,60,61,62,63,64,65,66,67,68,69,70,71,72,73,74,75,76,77,78,79,80,81,82,83,84,85,86,87,88,89,90,91,92,93,94,95,96,97,98,99],
  "range":[-88,-81,-81,-80,-42,-41,-80,-51,769,770,0,776,739.5,740.5,-71,-51,-73,-48,-51,0,-51,0,-51,0,-51,0,-51,0,-51,0,-51,0,-51,0,-51,0,-51,0,-51,2,-61,-61,-61,-61,-61,-61,-61,-61,-61,-61,-61,-61,-61,-61,-61,-61,-61,-61,-61,-61,-61,-61,-61,-61,-61,-60.5,-26,13,13,13,13,13,13,13,13,13,-26,-26,-26,-26,-26,-26,-26,-26,-26,-20,-20,-20,-20,-20,-61,-61,-61,-61,-61,-61,-61,-61,-61,-60]}}},
 "layer":[
 {"data":{"name":"chromeBoxes"},"mark":{"type":"rect"},
  "encoding":{"x2":{"field":"seq2"},"y2":{"field":"seq2"},
  "color":{"field":"kind","type":"nominal","legend":null,"scale":{"domain":["faint","line","active","edge","panel","shadow","div"],"range":["#f7f8f9","#eef0f2","#e9f2fd","#a3a3a3","#ffffff","#e9ebee","#e3e5e8"]}}}},
 {"data":{"name":"chromeButton"},"mark":{"type":"rect","color":"#3f8cea","cornerRadius":3},
  "encoding":{"x2":{"field":"seq2"},"y2":{"field":"seq2"}}},
 {"data":{"name":"chromeCentered"},"mark":{"type":"text","fontSize":15,"align":"center","baseline":"middle"},
  "encoding":{"text":{"field":"label"},
  "fill":{"field":"kind","type":"nominal","legend":null,"scale":{"domain":["tf","tfActive","dark","infoLabel","infoValue"],"range":["#8f98a3","#3f8cea","#4a5260","#8c96a1","#12b886"]}}}},
 {"data":{"name":"chromeButtonText"},"mark":{"type":"text","fontSize":14,"align":"center","baseline":"middle","color":"#ffffff"},"encoding":{"text":{"field":"label"}}},
 {"data":{"name":"chromeAa"},"mark":{"type":"text","fontSize":18,"align":"center","baseline":"middle","color":"#8e96a1"},"encoding":{"text":{"field":"label"}}},
 {"data":{"name":"chromeInfo"},"mark":{"type":"text","fontSize":14,"align":"left","baseline":"middle"},
  "encoding":{"text":{"field":"label"},
  "fill":{"field":"kind","type":"nominal","legend":null,"scale":{"domain":["tf","tfActive","dark","infoLabel","infoValue"],"range":["#8f98a3","#3f8cea","#4a5260","#8c96a1","#12b886"]}}}},
 {"data":{"name":"chromeIcons"},"mark":{"type":"point","filled":false,"strokeWidth":1.3,"size":400,"opacity":1},
  "encoding":{
  "shape":{"field":"icon","type":"nominal","legend":null,"scale":{
   "domain":["box","parallel","hline","segment","fan","gann","bars","fib","arrow","edit","trash","magnet","filter","loop","camera","pen","addwin","danmu","hex","compress","cloud","chevron","share"],
   "range":["M-.8 -.7H.8V.7H-.8Z M0 -.35V.35 M-.35 0H.35","M-.9 .2L.1 -.8 M-.2 .9L.8 -.1 M-1 .1L-.8 .3 M0 -.9L.2 -.7 M-.3 .8L-.1 1 M.7 -.2L.9 0","M-1 0H1 M-1 -.3V.3","M-.9 .8L.9 -.8 M-.9 .5L-.6 .8 M-.2 -.1L.1 .2 M.6 -.8L.9 -.5","M-.9 .8L.6 -1 M-.9 .8L.9 -.2 M-.9 .8L1 .55 M-.9 .8H.9","M-.2 .6L.8 -.9 M-.2 .6L1 -.2 M-.2 .6L1 .3 M-1 -.2L-.2 .6 M-.2 .6V-.9","M-.9 -.8V.8 M-.45 -.8V.8 M0 -.8V.8 M.45 -.8V.8 M.9 -.8V.8","M-.9 .8H.9 M-.9 .8L.1 -.2 M-.5 .2L.6 -.7 M-.3 .8L.8 -.1","M-.9 .9L.8 -.8 M.3 -.8H.8V-.3 M-1 .7L-.7 1","M-.4 -.8H.7V-.1 M-.4 -.4H.1 M-.1 .8L.7 0L1 .3L.2 1H-.1Z","M-.9 -.55H.9 M-.4 -.55V-.9H.4V-.55 M-.7 -.55V.9H.7V-.55 M-.25 -.2V.45 M.25 -.2V.45","M-.3 -.9L-.85 -.35A.85 .85 0 0 0 .35 .85L.9 .3L.4 -.2L-.1 .3A.2 .2 0 0 1 -.35 .05L.2 -.4Z","M-.95 -.85H.95L.15 0V.95H-.15V0Z","M-.85 -.7H.5L.2 -.95 M-.85 -.7V.7 M.85 .7H-.5L-.2 .95 M.85 .7V-.4 M-.2 .4L.4 -.2L.6 0L0 .55H-.2Z","M-.95 -.5H-.4L-.25 -.8H.25L.4 -.5H.95V.75H-.95Z M.3 .1A.3 .3 0 1 1 -.3 .1A.3 .3 0 1 1 .3 .1","M-.8 .5L.4 -.8L.8 -.4L-.4 .85H-.8Z M-.1 .95H.95","M-.6 0V-.7H.7V.7H0 M-.7 .7H-.1 M-.4 .4V1","M-.8 -.8H.7V.8H-.8Z M-.3 -.4H.2 M-.3 0H.2 M-.3 .4H.2","M0 -1L.87 -.5V.5L0 1L-.87 .5V-.5Z M.35 0A.35 .35 0 1 1 -.35 0A.35 .35 0 1 1 .35 0","M-.85 -.85L-.3 -.3 M-.3 -.8V-.3H-.8 M.85 -.85L.3 -.3 M.3 -.8V-.3H.8 M-.85 .85L-.3 .3 M-.3 .8V.3H-.8 M.85 .85L.3 .3 M.3 .8V.3H.8","M-.5 .6A.5 .5 0 0 1 -.6 -.3A.6 .6 0 0 1 .5 -.35A.5 .5 0 0 1 .5 .6Z M-.2 .15L0 .3L.3 0","M-.6 -.3L0 .3L.6 -.3","M-.45 -.12L.35 -.6 M-.45 .12L.35 .6 M-.35 0A.3 .3 0 1 1 -.95 0A.3 .3 0 1 1 -.35 0 M.95 -.7A.3 .3 0 1 1 .35 -.7A.3 .3 0 1 1 .95 -.7 M.95 .7A.3 .3 0 1 1 .35 .7A.3 .3 0 1 1 .95 .7"]}},
  "stroke":{"field":"tone","type":"nominal","legend":null,"scale":{"domain":["gray","slate","blue"],"range":["#9aa2ad","#5f6875","#3f8cea"]}}}}
 ]}
]
}
